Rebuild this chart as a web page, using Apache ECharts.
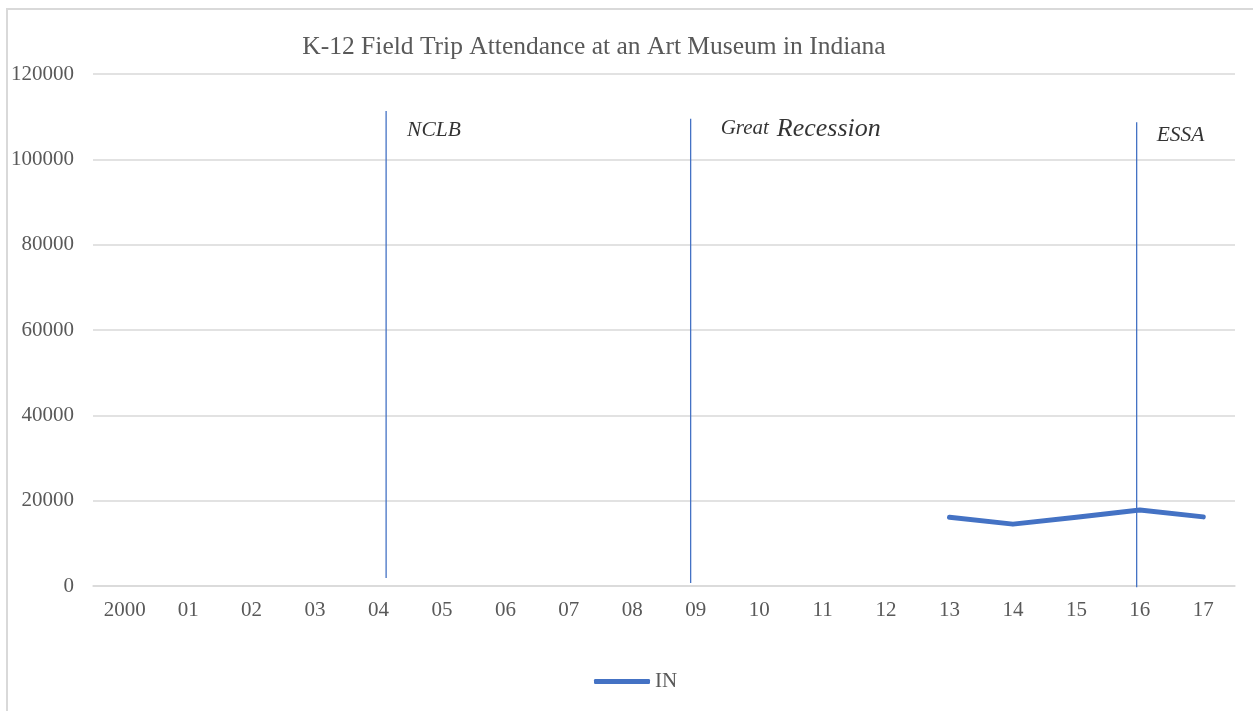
<!DOCTYPE html>
<html lang="en">
<head>
    <meta charset="UTF-8">
    <title>K-12 Field Trip Attendance</title>
    <script src="https://cdn.jsdelivr.net/npm/echarts@6/dist/echarts.min.js"></script>
    <style>
        html, body { margin: 0; padding: 0; background: #fff; }
        #wrap { position: relative; width: 1253px; height: 711px; overflow: hidden; }
        #frame { position: absolute; left: 6px; top: 8px; width: 1260px; height: 720px;
                 border-left: 2px solid #d9d9d9; border-top: 2px solid #d9d9d9; }
        #main { position: absolute; left: 0; top: 0; width: 1253px; height: 711px; }
    </style>
</head>
<body>
<div id="wrap">
    <div id="frame"></div>
    <div id="main"></div>
</div>
<script>
    // data
    var years = ['2000', '01', '02', '03', '04', '05', '06', '07', '08', '09',
                 '10', '11', '12', '13', '14', '15', '16', '17'];
    var attendance = [null, null, null, null, null, null, null, null, null, null,
                      null, null, null, 16100, 14500, 16100, 17800, 16200];
    var yTicks = [0, 20000, 40000, 60000, 80000, 100000, 120000];

    // policy / event markers (x in category units, 0..18 across the plot)
    var eventNames = ['NCLB', 'Great Recession', 'ESSA'];
    var eventX = [4.62, 9.42, 16.45];
    var eventTop = [111300, 109500, 108700];
    var eventBottom = [1900, 700, -300];

    var serif = "'Liberation Serif', 'Times New Roman', serif";
    var myChart = echarts.init(document.getElementById('main'));

    var series = [{
        name: 'IN',
        type: 'line',
        data: attendance,
        symbol: 'none',
        connectNulls: false,
        lineStyle: { color: '#4472C4', width: 5, cap: 'round', join: 'round' },
        itemStyle: { color: '#4472C4' },
        z: 3
    }];

    eventNames.forEach(function (nm, i) {
        series.push({
            name: nm,
            type: 'line',
            xAxisIndex: 1,
            data: [[eventX[i], eventBottom[i]], [eventX[i], eventTop[i]]],
            symbol: 'none',
            silent: true,
            clip: false,
            lineStyle: { color: '#4472C4', width: 1.3 },
            z: 4
        });
    });

    // labels for the events
    var labelOffsets = [[21, 19], [30, 10], [20, 13]];
    series.push({
        name: 'eventLabels',
        type: 'scatter',
        xAxisIndex: 1,
        symbolSize: 0,
        silent: true,
        data: eventNames.map(function (nm, i) {
            return {
                value: [eventX[i], eventTop[i]],
                label: {
                    show: true,
                    position: 'right',
                    distance: labelOffsets[i][0],
                    offset: [0, labelOffsets[i][1]],
                    formatter: nm === 'Great Recession' ? '{s|Great}{g| }{b|Recession}' : nm,
                    fontFamily: serif,
                    fontStyle: 'italic',
                    fontSize: 21.5,
                    color: '#000',
                    rich: {
                        s: { fontFamily: serif, fontStyle: 'italic', fontSize: 21, color: '#000' },
                        g: { fontFamily: serif, fontSize: 14, width: 8, color: '#000' },
                        b: { fontFamily: serif, fontStyle: 'italic', fontSize: 26, color: '#000' }
                    }
                }
            };
        }),
        z: 5
    });

    var option = {
        backgroundColor: 'transparent',
        animation: false,
        title: {
            text: 'K-12 Field Trip Attendance at an Art Museum in Indiana',
            left: 589,
            textAlign: 'center',
            top: 29,
            textStyle: { fontFamily: serif, fontSize: 25.5, fontWeight: 'normal', color: '#595959' }
        },
        legend: {
            data: ['IN'],
            left: 594,
            top: 671,
            padding: 0,
            itemWidth: 56,
            itemHeight: 5,
            itemGap: 2,
            icon: 'roundRect',
            textStyle: { fontFamily: serif, fontSize: 21, color: '#595959', padding: [2, 0, 0, 0] }
        },
        grid: { left: 93, right: 18, top: 74, bottom: 125, containLabel: false },
        xAxis: [{
            type: 'category',
            data: years,
            boundaryGap: true,
            axisLine: { show: true, lineStyle: { color: '#d9d9d9', width: 1.5 } },
            axisTick: { show: false },
            axisLabel: { fontFamily: serif, fontSize: 21, color: '#595959', margin: 14 }
        }, {
            type: 'value',
            min: 0,
            max: 18,
            show: false
        }],
        yAxis: {
            type: 'value',
            min: yTicks[0],
            max: yTicks[yTicks.length - 1],
            interval: 20000,
            axisLine: { show: false },
            axisTick: { show: false },
            splitLine: { lineStyle: { color: '#d9d9d9', width: 1.5 } },
            axisLabel: {
                fontFamily: serif, fontSize: 21, color: '#595959', margin: 19,
                formatter: function (v) { return String(v); }
            }
        },
        series: series
    };

    myChart.setOption(option);
</script>
</body>
</html>
